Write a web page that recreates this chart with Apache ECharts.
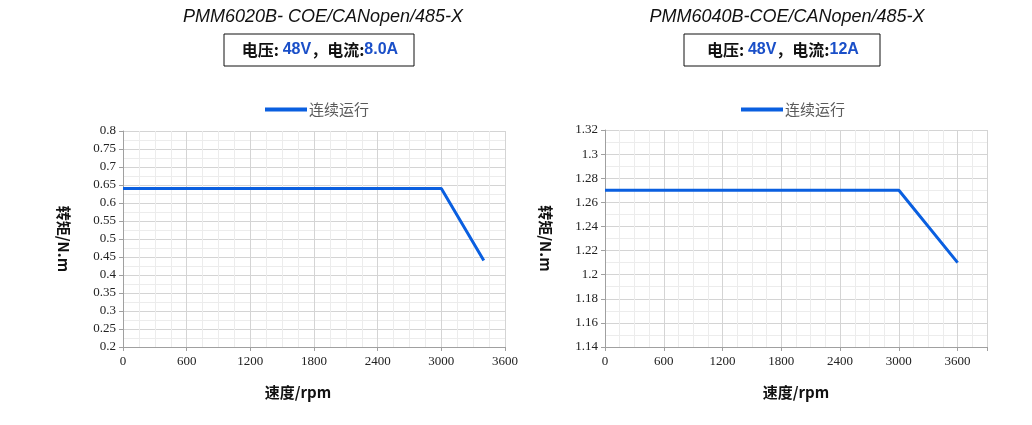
<!DOCTYPE html>
<html>
<head>
<meta charset="utf-8">
<script src="https://cdn.jsdelivr.net/npm/echarts@6/dist/echarts.min.js"></script>
<style>
  html, body { margin: 0; padding: 0; background: #fff; }
  #main { width: 1032px; height: 425px; }
</style>
</head>
<body>
<div id="main"></div>
<script>
// chart data
var seriesName = '连续运行';

var leftTitle = 'PMM6020B- COE/CANopen/485-X';
var leftVoltage = '48V';
var leftCurrent = '8.0A';
var leftSpeed = [0, 3000, 3400];
var leftTorque = [0.64, 0.64, 0.44];

var rightTitle = 'PMM6040B-COE/CANopen/485-X';
var rightVoltage = '48V';
var rightCurrent = '12A';
var rightSpeed = [0, 3000, 3600];
var rightTorque = [1.27, 1.27, 1.21];

var lineColor = '#0a5fe0';
var serif = '"Liberation Serif", "DejaVu Serif", serif';
var cjk = '"Noto Sans CJK SC", "Noto Sans", sans-serif';

function pairs(xs, ys) {
  var out = [];
  for (var i = 0; i < xs.length; i++) out.push([xs[i], ys[i]]);
  return out;
}

function xAxisOpt(idx, max, shiftName) {
  return {
    type: 'value', gridIndex: idx, min: 0, max: max, interval: 600,
    name: '速度/rpm', nameLocation: 'middle', nameGap: 38,
    nameTextStyle: { fontFamily: cjk, fontWeight: 'bold', fontSize: 15, color: '#111', padding: [0, shiftName, 0, 0] },
    axisLine: { show: true, lineStyle: { color: '#a0a0a0', width: 1 } },
    axisTick: { show: true, length: 4, lineStyle: { color: '#a0a0a0' } },
    axisLabel: {
      fontFamily: serif, fontSize: 13, color: '#222', margin: 8,
      formatter: function (v) { return v % 600 === 0 ? String(v) : ''; }
    },
    splitLine: { show: true, lineStyle: { color: '#d4d4d4' } },
    minorTick: { show: false, splitNumber: 4 },
    minorSplitLine: { show: true, lineStyle: { color: '#ececec' } }
  };
}

function yAxisOpt(idx, min, max, step, minorN) {
  return {
    type: 'value', gridIndex: idx, min: min, max: max, interval: step,
    name: '转矩/N.m', nameLocation: 'middle', nameRotate: -90, nameGap: 52,
    nameTextStyle: { fontFamily: cjk, fontWeight: 'bold', fontSize: 15, color: '#111' },
    axisLine: { show: true, lineStyle: { color: '#a0a0a0', width: 1 } },
    axisTick: { show: true, length: 4, lineStyle: { color: '#a0a0a0' } },
    axisLabel: {
      fontFamily: serif, fontSize: 13, color: '#222', margin: 7,
      formatter: function (v) { return String(parseFloat(v.toFixed(3))); }
    },
    splitLine: { show: true, lineStyle: { color: '#d4d4d4' } },
    minorTick: { show: false, splitNumber: minorN },
    minorSplitLine: { show: true, lineStyle: { color: '#ececec' } }
  };
}

function header(cx, tx, title, volt, amp, boxW) {
  return [
    {
      type: 'text', x: tx, y: 8,
      style: {
        text: title, align: 'center', verticalAlign: 'top',
        font: 'italic 18px "Liberation Sans", sans-serif', fill: '#111'
      }
    },
    {
      type: 'rect', shape: { x: cx - boxW / 2, y: 34, width: boxW, height: 32 },
      style: { fill: '#fff', stroke: '#111', lineWidth: 1 }
    },
    {
      type: 'text', x: cx + 1, y: 50,
      style: {
        text: '{a|电压: }{b|' + volt + '}{a|，电流:}{b|' + amp + '}',
        align: 'center', verticalAlign: 'middle',
        rich: {
          a: { fontFamily: cjk, fontWeight: 'bold', fontSize: 16, fill: '#111' },
          b: { fontFamily: '"Liberation Sans Narrow", "Liberation Sans", sans-serif', fontWeight: 'bold', fontSize: 16, fill: '#1a4fc8' }
        }
      }
    }
  ];
}

var chart = echarts.init(document.getElementById('main'), null, { renderer: 'canvas' });

var option = {
  animation: false,
  backgroundColor: '#fff',
  graphic: header(319, 323, leftTitle, leftVoltage, leftCurrent, 190)
    .concat(header(782, 787, rightTitle, rightVoltage, rightCurrent, 196)),
  legend: [
    {
      left: 260, top: 97, itemWidth: 42, itemHeight: 4, icon: 'rect', itemGap: 4,
      data: [{ name: seriesName, icon: 'rect' }],
      textStyle: { fontFamily: cjk, fontSize: 15, color: '#5a5a5a', padding: [0, 0, 0, -3] }
    },
    {
      left: 736, top: 97, itemWidth: 42, itemHeight: 4, icon: 'rect',
      data: [{ name: seriesName, icon: 'rect' }],
      textStyle: { fontFamily: cjk, fontSize: 15, color: '#5a5a5a', padding: [0, 0, 0, -3] }
    }
  ],
  grid: [
    { left: 123, top: 131, width: 382, height: 216 },
    { left: 605, top: 130, width: 382, height: 217 }
  ],
  xAxis: [xAxisOpt(0, 3600, 32), xAxisOpt(1, 3900, 0)],
  yAxis: [yAxisOpt(0, 0.2, 0.8, 0.05, 2), yAxisOpt(1, 1.14, 1.32, 0.02, 2)],
  series: [
    {
      name: seriesName, type: 'line', xAxisIndex: 0, yAxisIndex: 0,
      data: pairs(leftSpeed, leftTorque), symbol: 'none',
      lineStyle: { color: lineColor, width: 3 }, itemStyle: { color: lineColor }
    },
    {
      name: seriesName, type: 'line', xAxisIndex: 1, yAxisIndex: 1,
      data: pairs(rightSpeed, rightTorque), symbol: 'none',
      lineStyle: { color: lineColor, width: 3 }, itemStyle: { color: lineColor }
    }
  ]
};

chart.setOption(option);
</script>
</body>
</html>
